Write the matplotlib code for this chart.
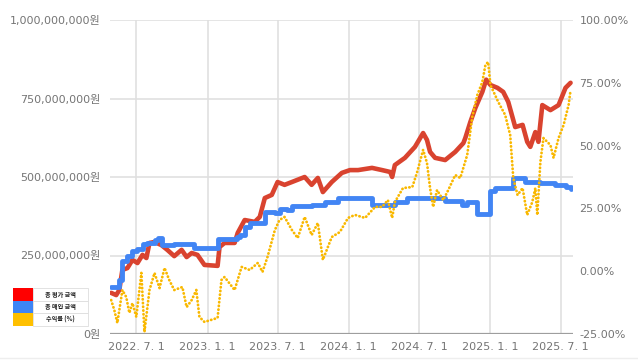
import matplotlib
matplotlib.use("Agg")
import matplotlib.pyplot as plt
import matplotlib.dates as mdates
from matplotlib.patches import Rectangle
from matplotlib.lines import Line2D
import pandas as pd

plt.rcParams['font.family'] = ['DejaVu Sans', 'Noto Sans CJK KR']

# 총 평가 금액 (단위: 백만원)
eval_dates = ['2022-04-27', '2022-05-10', '2022-05-18', '2022-05-26', '2022-06-08', '2022-06-21',
              '2022-07-04', '2022-07-17', '2022-07-27', '2022-08-04', '2022-08-17', '2022-09-04',
              '2022-09-19', '2022-10-07', '2022-10-26', '2022-11-08', '2022-11-21', '2022-12-06',
              '2022-12-24', '2023-01-27', '2023-02-01', '2023-02-14', '2023-03-12', '2023-03-20',
              '2023-04-07', '2023-05-03', '2023-05-16', '2023-05-29', '2023-06-16', '2023-07-01',
              '2023-07-19', '2023-08-07', '2023-09-09', '2023-09-27', '2023-10-13', '2023-10-26',
              '2023-11-18', '2023-12-14', '2024-01-04', '2024-01-25', '2024-03-01', '2024-03-27',
              '2024-04-17', '2024-04-22', '2024-04-29', '2024-05-25', '2024-06-20', '2024-07-11',
              '2024-07-21', '2024-07-29', '2024-08-11', '2024-09-06', '2024-10-02', '2024-10-23',
              '2024-10-28', '2024-11-10', '2024-11-23', '2024-12-11', '2024-12-21', '2025-01-01',
              '2025-01-19', '2025-02-03', '2025-02-16', '2025-03-06', '2025-03-25', '2025-04-06',
              '2025-04-14', '2025-04-27', '2025-05-05', '2025-05-15', '2025-06-05', '2025-06-26',
              '2025-07-14', '2025-07-27']
eval_values = [131, 124, 140, 204, 210, 236,
               226, 252, 242, 290, 293, 283,
               268, 248, 268, 245, 258, 252,
               220, 217, 277, 290, 290, 322,
               363, 357, 373, 433, 443, 484,
               475, 484, 500, 475, 497, 452,
               484, 513, 522, 522, 529, 522,
               516, 500, 538, 561, 596, 640,
               618, 580, 561, 554, 580, 608,
               624, 675, 720, 771, 810, 793,
               784, 771, 739, 659, 666, 612,
               596, 643, 612, 729, 713, 729,
               784, 800]

# 총 매입 금액 (단위: 백만원, 계단형)
cost_dates = ['2022-04-27', '2022-05-18', '2022-05-26', '2022-06-08', '2022-06-21', '2022-07-04',
              '2022-07-17', '2022-07-29', '2022-08-17', '2022-08-26', '2022-09-06', '2022-10-07',
              '2022-11-28', '2023-01-27', '2023-03-17', '2023-03-25', '2023-04-07', '2023-04-20',
              '2023-05-29', '2023-06-24', '2023-07-06', '2023-07-25', '2023-08-07', '2023-09-27',
              '2023-10-31', '2023-12-04', '2024-03-01', '2024-04-29', '2024-05-31', '2024-09-06',
              '2024-10-20', '2024-11-02', '2024-11-28', '2025-01-01', '2025-01-14', '2025-02-27',
              '2025-04-01', '2025-05-10', '2025-06-18', '2025-07-14', '2025-07-27']
cost_values = [150, 172, 232, 250, 264, 271,
               287, 290, 300, 306, 283, 287,
               274, 303, 309, 315, 340, 352,
               389, 385, 398, 395, 408, 411,
               420, 433, 411, 420, 433, 424,
               411, 420, 382, 455, 465, 497,
               484, 481, 475, 468, 462]

# 수익률 (%)
ret_dates = ['2022-04-27', '2022-05-05', '2022-05-13', '2022-05-26', '2022-06-05', '2022-06-13',
             '2022-06-21', '2022-07-01', '2022-07-14', '2022-07-22', '2022-08-04', '2022-08-17',
             '2022-08-30', '2022-09-12', '2022-09-24', '2022-10-07', '2022-10-28', '2022-11-08',
             '2022-11-21', '2022-12-03', '2022-12-11', '2022-12-24', '2023-01-27', '2023-02-06',
             '2023-02-14', '2023-03-12', '2023-03-30', '2023-04-20', '2023-05-11', '2023-05-23',
             '2023-06-05', '2023-06-24', '2023-07-06', '2023-07-19', '2023-08-07', '2023-08-22',
             '2023-09-09', '2023-09-27', '2023-10-13', '2023-10-26', '2023-11-18', '2023-12-09',
             '2023-12-30', '2024-01-17', '2024-02-12', '2024-03-09', '2024-03-27', '2024-04-11',
             '2024-04-22', '2024-04-29', '2024-05-20', '2024-06-13', '2024-06-25', '2024-07-11',
             '2024-07-21', '2024-07-29', '2024-08-06', '2024-08-16', '2024-09-01', '2024-09-14',
             '2024-10-02', '2024-10-15', '2024-11-02', '2024-11-15', '2024-11-28', '2024-12-11',
             '2024-12-19', '2024-12-26', '2025-01-01', '2025-01-21', '2025-02-08', '2025-02-21',
             '2025-03-01', '2025-03-12', '2025-03-25', '2025-04-06', '2025-04-19', '2025-04-27',
             '2025-05-02', '2025-05-10', '2025-05-18', '2025-06-05', '2025-06-13', '2025-06-26',
             '2025-07-09', '2025-07-22', '2025-07-27']
ret_values = [-11.5, -15.4, -20.6, -7.5, -10.3, -16.6,
              -12.7, -18.2, -0.7, -24.2, -7.5, -0.7,
              -6.7, 1.3, -3.5, -7.5, -6.3, -14.3,
              -11.5, -7.5, -18.2, -20.2, -18.6, -3.5,
              -2.3, -7.5, 1.7, 0.5, 3.3, -0.3,
              5.7, 16.4, 20.4, 21.6, 16.4, 13.2,
              21.6, 14.4, 19.2, 4.5, 13.6, 15.6,
              21.2, 22.4, 21.2, 25.6, 25.6, 28.3,
              21.2, 27.5, 33.1, 33.5, 39.1, 48.3,
              43.1, 33.1, 25.6, 32.3, 28.3, 32.3,
              38.3, 37.1, 46.3, 61.4, 70.1, 75.3,
              82.1, 83.3, 74.1, 67.4, 62.2, 54.2,
              37.1, 30.3, 33.1, 22.4, 27.5, 33.1,
              22.4, 43.5, 53.0, 50.2, 45.1, 53.0,
              58.2, 66.2, 72.1]

x_ticks = ['2022-07-01', '2023-01-01', '2023-07-01', '2024-01-01', '2024-07-01', '2025-01-01', '2025-07-01']
x_tick_labels = ['2022. 7. 1', '2023. 1. 1', '2023. 7. 1', '2024. 1. 1', '2024. 7. 1', '2025. 1. 1', '2025. 7. 1']
left_ticks = [0, 250, 500, 750, 1000]
left_tick_labels = ['0원', '250,000,000원', '500,000,000원', '750,000,000원', '1,000,000,000원']
right_ticks = [-25, 0, 25, 50, 75, 100]
right_tick_labels = ['-25.00%', '0.00%', '25.00%', '50.00%', '75.00%', '100.00%']
legend_names = ['총 평가 금액', '총 매입 금액', '수익률 (%)']
legend_colors = ['#ff0000', '#3d85f6', '#ffc000']

W, H = 638, 360
fig = plt.figure(figsize=(W / 100, H / 100), dpi=100)
ax = fig.add_axes([110 / W, (H - 334) / H, (572.5 - 110) / W, (334 - 20) / H])
ax2 = ax.twinx()

grey = '#757575'
ax.plot(pd.to_datetime(eval_dates), eval_values, color='#d9432f', lw=3.3,
        solid_joinstyle='round', solid_capstyle='round', zorder=3)
ax.plot(pd.to_datetime(cost_dates), cost_values, color='#4285f4', lw=3.5,
        drawstyle='steps-post', solid_joinstyle='round', solid_capstyle='round', zorder=4)
ax2.plot(pd.to_datetime(ret_dates), ret_values, color='#f9b800', lw=2.0,
         linestyle=(0, (0.1, 1.25)), dash_capstyle='round', zorder=5)

ax.set_xlim(pd.Timestamp('2022-04-24'), pd.Timestamp('2025-08-01'))
ax.set_ylim(0, 1000)
ax2.set_ylim(-25, 100)

ax.set_xticks(pd.to_datetime(x_ticks))
ax.set_xticklabels(x_tick_labels)
ax.set_yticks(left_ticks)
ax.set_yticklabels(left_tick_labels)
ax2.set_yticks(right_ticks)
ax2.set_yticklabels(right_tick_labels)

ax.grid(True, color='#e0e0e0', lw=1.2, zorder=0)
ax.set_axisbelow(True)
for a in (ax, ax2):
    for s in a.spines.values():
        s.set_visible(False)
    a.tick_params(length=0, labelsize=8, colors=grey)
ax.tick_params(axis='y', pad=7)
ax.tick_params(axis='x', pad=6)
ax2.tick_params(axis='y', pad=5)
ax.axhline(0, color='#9e9e9e', lw=1.6, zorder=2)
ax2.set_zorder(ax.get_zorder() + 1)
ax2.patch.set_visible(False)

# 범례 표
lx0, lx1, lx2 = 13, 33, 88
ly = [288, 300.5, 313, 325.5]
for i, (name, col) in enumerate(zip(legend_names, legend_colors)):
    y0 = H - ly[i + 1]
    hgt = ly[i + 1] - ly[i]
    fig.patches.append(Rectangle((lx0 / W, y0 / H), (lx1 - lx0) / W, hgt / H,
                                 transform=fig.transFigure, facecolor=col, edgecolor='none'))
    fig.patches.append(Rectangle((lx1 / W, y0 / H), (lx2 - lx1) / W, hgt / H,
                                 transform=fig.transFigure, facecolor='white',
                                 edgecolor='#dddddd', lw=0.6))
    fig.text((lx1 + lx2) / 2 / W, (y0 + hgt / 2) / H, name, fontsize=4.4, fontweight='bold',
             ha='center', va='center', color='#222222', family=['Noto Sans CJK KR', 'DejaVu Sans'])

fig.add_artist(Line2D([0, 1], [2.5 / H, 2.5 / H], color='#eeeeee', lw=1, transform=fig.transFigure))

fig.savefig('out.png', dpi=100)
